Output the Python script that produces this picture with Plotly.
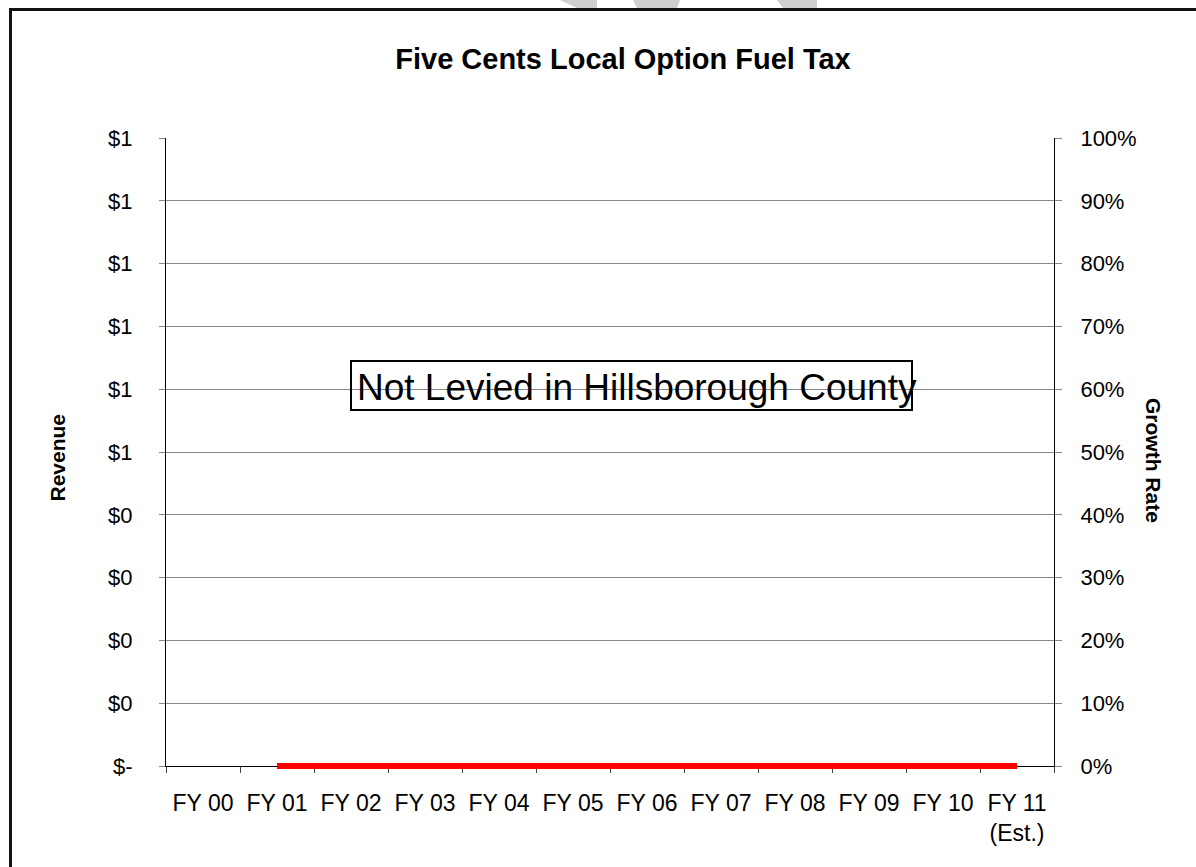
import plotly.graph_objects as go

# ---------------- data ----------------
categories = ["FY 00", "FY 01", "FY 02", "FY 03", "FY 04", "FY 05",
              "FY 06", "FY 07", "FY 08", "FY 09", "FY 10", "FY 11<br>(Est.)"]
line_categories = ["FY 01", "FY 02", "FY 03", "FY 04", "FY 05",
                   "FY 06", "FY 07", "FY 08", "FY 09", "FY 10", "FY 11<br>(Est.)"]
growth_rate = [0, 0, 0, 0, 0, 0, 0, 0, 0, 0, 0]
revenue = [None, None, None, None, None, None, None, None, None, None, None, None]

revenue_tick_values = [0, 0.1, 0.2, 0.3, 0.4, 0.5, 0.6, 0.7, 0.8, 0.9, 1.0]
revenue_tick_labels = ["$-", "$0", "$0", "$0", "$0", "$1", "$1", "$1", "$1", "$1", "$1"]
growth_tick_values = [0, 0.1, 0.2, 0.3, 0.4, 0.5, 0.6, 0.7, 0.8, 0.9, 1.0]
growth_tick_labels = ["0%", "10%", "20%", "30%", "40%", "50%", "60%", "70%", "80%", "90%", "100%"]

title_text = "Five Cents Local Option Fuel Tax"
note_text = "Not Levied in Hillsborough County"

# ---------------- geometry ----------------
W, H = 1196, 867
L, R, T, B = 166, 1054, 138, 766   # plot area in pixels
EXTRA = 5                          # room below the zero line for the thick line
PB = B + EXTRA                     # paper bottom
PH = PB - T
PW = R - L


def xp(px):
    return (px - L) / PW


def yp(py):
    return (PB - py) / PH


FONT = "Liberation Sans, Arial, sans-serif"
GRID = "#868686"

fig = go.Figure()

# revenue series (no values) on the left axis
fig.add_trace(go.Scatter(
    x=categories, y=revenue, mode="lines", xaxis="x", yaxis="y",
    line=dict(color="rgba(0,0,0,0)"), showlegend=False, hoverinfo="skip"))

# right-axis scale
fig.add_trace(go.Scatter(
    x=categories, y=revenue, mode="lines", xaxis="x", yaxis="y2",
    line=dict(color="rgba(0,0,0,0)"), showlegend=False, hoverinfo="skip"))

# growth rate line
fig.add_trace(go.Scatter(
    x=line_categories, y=growth_rate, mode="lines",
    line=dict(color="#FF0000", width=6),
    xaxis="x", yaxis="y3", showlegend=False, hoverinfo="skip"))

main_bottom = EXTRA / PH
r0 = -EXTRA / (B - T)

fig.update_layout(
    width=W, height=H,
    margin=dict(l=L, r=W - R, t=T, b=H - PB, pad=0),
    paper_bgcolor="white", plot_bgcolor="rgba(0,0,0,0)",
    font=dict(family=FONT, color="black", size=22),
    showlegend=False,
    title=dict(text="<b>" + title_text + "</b>", x=xp(623), xref="paper",
               xanchor="center", y=1 - 59 / H, yref="container", yanchor="middle",
               font=dict(family=FONT, size=29, color="black")),
    xaxis=dict(type="category", categoryorder="array", categoryarray=categories,
               range=[-0.5, len(categories) - 0.5], tickson="boundaries",
               ticks="outside", ticklen=6, tickcolor="#444", tickwidth=1,
               showline=True, linecolor="black", linewidth=1, showgrid=False,
               tickfont=dict(family=FONT, size=23, color="black"),
               ticklabelstandoff=16, layer="below traces", anchor="y",
               fixedrange=True),
    yaxis=dict(domain=[main_bottom, 1], range=[0, 1], anchor="x",
               tickvals=revenue_tick_values, ticktext=revenue_tick_labels,
               showgrid=True, gridcolor=GRID, gridwidth=1, zeroline=False,
               ticks="outside", ticklen=6, tickcolor=GRID,
               showline=True, linecolor="black", linewidth=1,
               tickfont=dict(family=FONT, size=22, color="black"),
               ticklabelstandoff=22, layer="below traces", fixedrange=True),
    yaxis2=dict(overlaying="y", side="right", range=[0, 1],
                tickvals=growth_tick_values, ticktext=growth_tick_labels,
                showgrid=False, zeroline=False,
                ticks="outside", ticklen=7, tickcolor=GRID,
                showline=True, linecolor="black", linewidth=1,
                tickfont=dict(family=FONT, size=22, color="black"),
                ticklabelstandoff=14, anchor="x", fixedrange=True),
    yaxis3=dict(domain=[0, 1], range=[r0, 1], visible=False, anchor="free",
                position=0, showgrid=False, zeroline=False, fixedrange=True),
)

annotations = [
    dict(text="<b>Revenue</b>", x=xp(56.5), y=yp(458), xref="paper", yref="paper",
         textangle=-90, showarrow=False, xanchor="center", yanchor="middle",
         font=dict(family=FONT, size=21, color="black")),
    dict(text="<b>Growth Rate</b>", x=xp(1154), y=yp(460), xref="paper", yref="paper",
         textangle=90, showarrow=False, xanchor="center", yanchor="middle",
         font=dict(family=FONT, size=21, color="black")),
    dict(text=note_text, x=xp(637), y=yp(387), xref="paper", yref="paper",
         showarrow=False, xanchor="center", yanchor="middle",
         font=dict(family=FONT, size=37, color="black")),
]
fig.update_layout(annotations=annotations)

GRAYW = "#cfcfcf"
shapes = [
    # note box
    dict(type="rect", xref="paper", yref="paper", x0=xp(351), x1=xp(912),
         y0=yp(410), y1=yp(361), line=dict(color="black", width=2),
         fillcolor="rgba(0,0,0,0)", layer="above"),
    # faint watermark fragments at the top edge
    dict(type="path", xref="paper", yref="paper", layer="below",
         path=f"M {xp(560)} {yp(0)} L {xp(597)} {yp(0)} L {xp(597)} {yp(8)} L {xp(577)} {yp(8)} Z",
         fillcolor=GRAYW, line=dict(width=0)),
    dict(type="path", xref="paper", yref="paper", layer="below",
         path=f"M {xp(633)} {yp(0)} L {xp(680)} {yp(0)} L {xp(677)} {yp(8)} L {xp(637)} {yp(8)} Z",
         fillcolor=GRAYW, line=dict(width=0)),
    dict(type="path", xref="paper", yref="paper", layer="below",
         path=f"M {xp(777)} {yp(0)} L {xp(817)} {yp(0)} L {xp(817)} {yp(8)} L {xp(783)} {yp(8)} Z",
         fillcolor=GRAYW, line=dict(width=0)),
    # outer border (top and left edges)
    dict(type="line", xref="paper", yref="paper", x0=xp(9), x1=xp(1200),
         y0=yp(9.5), y1=yp(9.5), line=dict(color="#111111", width=3), layer="above"),
    dict(type="line", xref="paper", yref="paper", x0=xp(10.5), x1=xp(10.5),
         y0=yp(8), y1=yp(872), line=dict(color="#111111", width=3), layer="above"),
]
fig.update_layout(shapes=shapes)

fig.write_html("out.html")
